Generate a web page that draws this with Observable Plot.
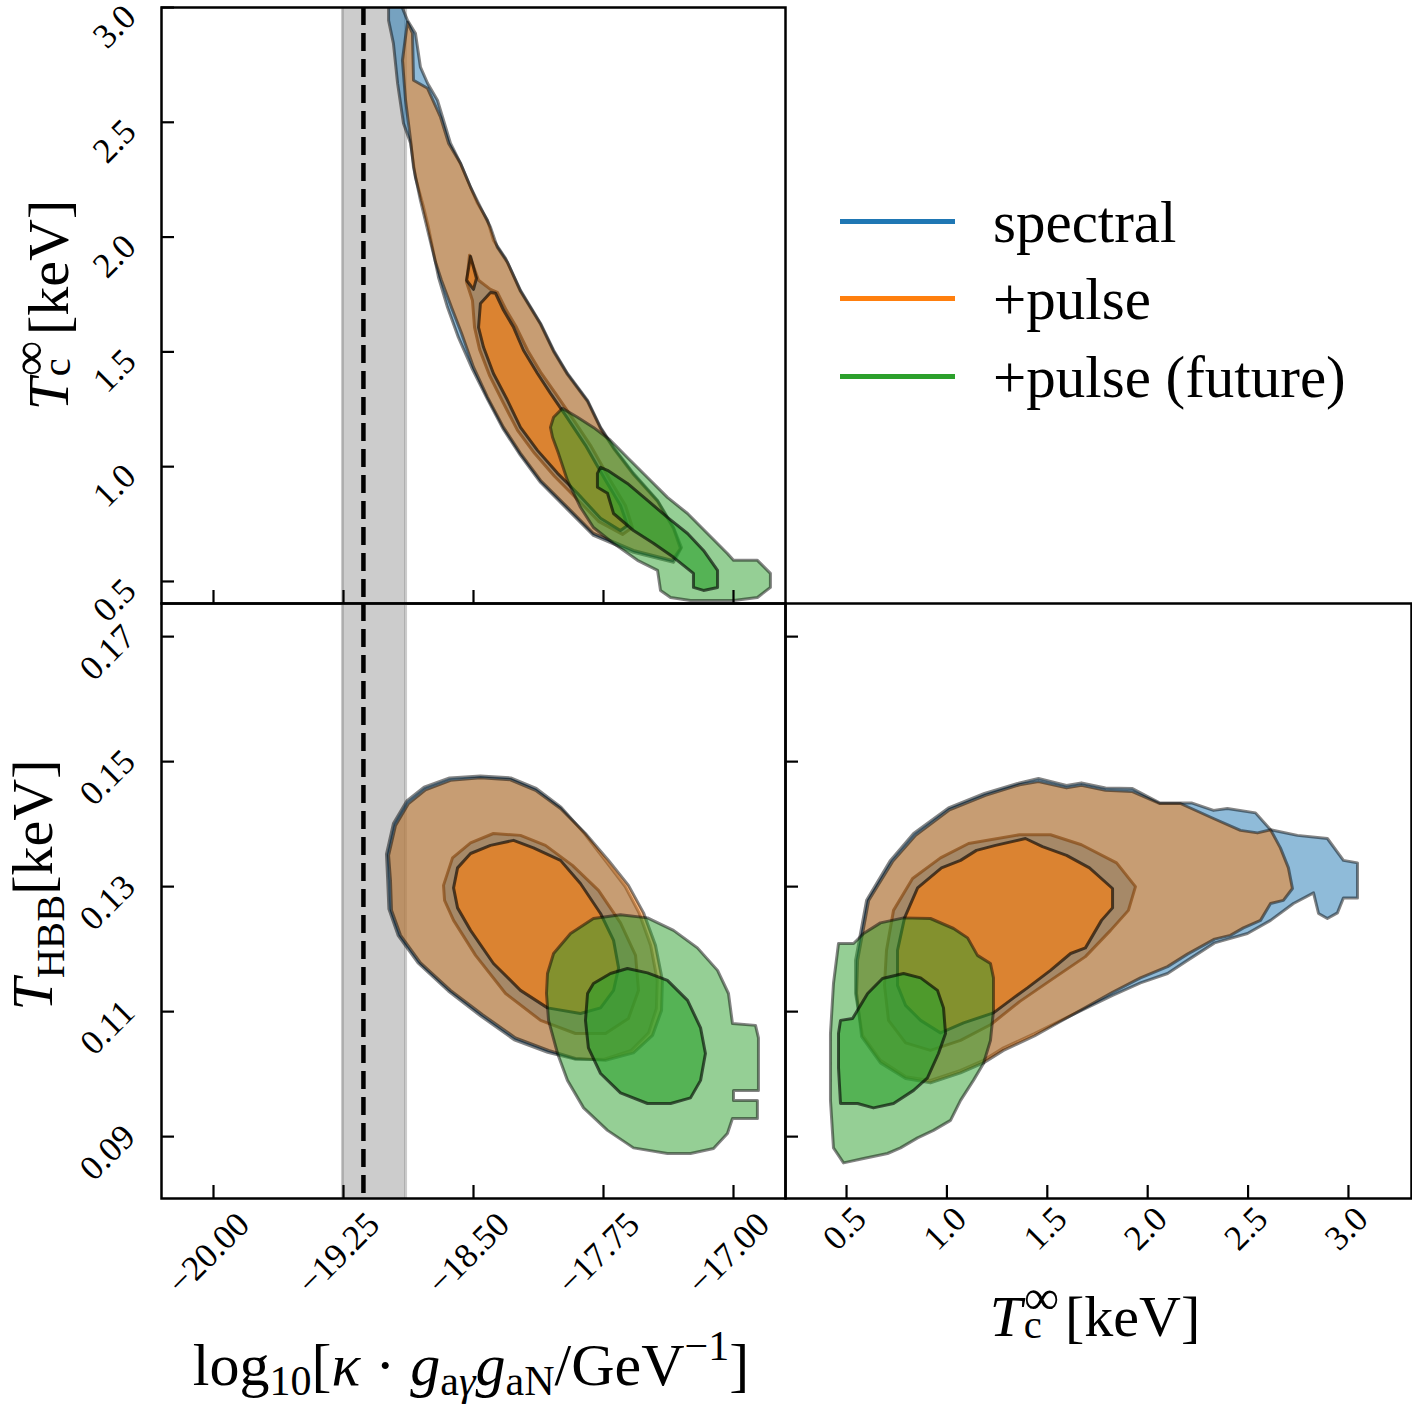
<!DOCTYPE html>
<html>
<head>
<meta charset="utf-8">
<script src="https://cdn.jsdelivr.net/npm/d3@7"></script>
<script src="https://cdn.jsdelivr.net/npm/@observablehq/plot@0.6"></script>
<style>
  html, body { margin: 0; padding: 0; background: #fff; }
  #fig { position: relative; width: 1412px; height: 1406px; overflow: hidden;
         font-family: "Liberation Serif", "Times New Roman", serif; color: #000; }
  .lab { position: absolute; font-size: 58px; line-height: 1; white-space: nowrap;
         transform: translate(-50%, -50%); }
  .lab.rot { transform: translate(-50%, -50%) rotate(-90deg); }
  .lab.wide { font-size: 60px; }
  .lab i { font-style: italic; }
  .lab sub { font-size: 0.7em; vertical-align: -0.3em; line-height: 0; }
  .lab.wide sub { vertical-align: -0.24em; }
  .lab sup { font-size: 0.7em; vertical-align: 0.6em; line-height: 0; }
  .ss { display: inline-block; position: relative; width: 0.74em; height: 1em; }
  .ss > span { position: absolute; left: 0.04em; line-height: 0.5; }
  .ss .up { font-size: 0.85em; top: 0.16em; }
  .ss .dn { font-size: 0.7em; top: 0.9em; }
  .leg { position: absolute; left: 993px; font-size: 59px; line-height: 1; white-space: nowrap; }
  .legline { position: absolute; left: 840px; width: 115px; height: 5px; }
</style>
</head>
<body>
<div id="fig">
  <div class="lab rot" style="left:44px; top:305px;"><i>T</i><span class="ss"><span class="up">∞</span><span class="dn">c</span></span>[keV]</div>
  <div class="lab rot" style="left:33px; top:885px;"><i>T</i><sub>HBB</sub>[keV]</div>
  <div class="lab wide" style="left:471px; top:1365px;">log<sub>10</sub>[<i>κ</i> · <i>g</i><sub>a<i>γ</i></sub><i>g</i><sub>aN</sub>/GeV<sup>−1</sup>]</div>
  <div class="lab" style="left:1095px; top:1312px;"><i>T</i><span class="ss"><span class="up">∞</span><span class="dn">c</span></span>[keV]</div>
</div>
<script>
// ---------------------------------------------------------------------------
// Axis ticks
const couplingTicks = [-20.0, -19.25, -18.5, -17.75, -17.0];
const tcTicks = [0.5, 1.0, 1.5, 2.0, 2.5, 3.0];
const hbbTicks = [0.09, 0.11, 0.13, 0.15, 0.17];

// Shaded coupling interval and its reference value (dashed line)
const couplingBand = [-19.256, -18.892];
const couplingRef = -19.135;

// Legend entries
const seriesNames = ["spectral", "+pulse", "+pulse (future)"];
const seriesColors = ["#1f77b4", "#ff7f0e", "#2ca02c"];

// ---------------------------------------------------------------------------
// Credible regions: log10 coupling vs T_c (outer = 2 sigma, inner = 1 sigma)
const cTcSpectralOuter = [
  [-18.990,3.018],[-18.921,3.018],[-18.881,2.944],[-18.835,2.888],[-18.806,2.740],[-18.765,2.670],
  [-18.708,2.596],[-18.673,2.509],[-18.633,2.409],[-18.575,2.321],[-18.517,2.217],[-18.477,2.147],
  [-18.419,2.073],[-18.385,1.986],[-18.315,1.907],[-18.229,1.768],[-18.113,1.624],[-18.038,1.507],
  [-17.958,1.406],[-17.842,1.289],[-17.767,1.171],[-17.692,1.084],[-17.577,0.971],[-17.438,0.853],
  [-17.346,0.735],[-17.300,0.648],[-17.346,0.583],[-17.577,0.627],[-17.808,0.701],[-17.958,0.814],
  [-18.113,0.931],[-18.229,1.049],[-18.327,1.162],[-18.419,1.293],[-18.506,1.424],[-18.587,1.563],
  [-18.650,1.694],[-18.702,1.825],[-18.760,2.043],[-18.788,2.130],[-18.835,2.260],[-18.863,2.409],
  [-18.904,2.496],[-18.938,2.670],[-18.962,2.844],[-18.990,2.944]
];
const cTcSpectralInner = [
  [-18.523,1.921],[-18.471,1.812],[-18.402,1.772],[-18.362,1.759],[-18.310,1.681],[-18.252,1.607],
  [-18.188,1.507],[-18.108,1.406],[-18.027,1.319],[-17.940,1.223],[-17.825,1.093],[-17.710,0.940],
  [-17.623,0.831],[-17.583,0.735],[-17.640,0.705],[-17.779,0.762],[-17.917,0.870],[-18.033,0.958],
  [-18.148,1.058],[-18.246,1.158],[-18.327,1.276],[-18.408,1.398],[-18.465,1.511],[-18.494,1.607],
  [-18.506,1.724],[-18.540,1.803]
];
const cTcPulseOuter = [
  [-18.881,2.936],[-18.852,2.888],[-18.846,2.683],[-18.765,2.648],[-18.690,2.522],[-18.644,2.409],
  [-18.575,2.321],[-18.517,2.217],[-18.460,2.130],[-18.402,2.043],[-18.362,1.955],[-18.304,1.890],
  [-18.229,1.764],[-18.113,1.620],[-18.038,1.502],[-17.958,1.402],[-17.842,1.284],[-17.767,1.167],
  [-17.692,1.080],[-17.577,0.966],[-17.438,0.849],[-17.346,0.731],[-17.306,0.644],[-17.352,0.592],
  [-17.577,0.635],[-17.808,0.709],[-17.958,0.823],[-18.113,0.940],[-18.229,1.058],[-18.327,1.171],
  [-18.419,1.302],[-18.500,1.433],[-18.569,1.581],[-18.627,1.694],[-18.685,1.812],[-18.719,1.890],
  [-18.760,2.016],[-18.806,2.160],[-18.846,2.304],[-18.863,2.422],[-18.892,2.596],[-18.910,2.770]
];
const cTcPulseInner = [
  [-18.402,1.759],[-18.373,1.755],[-18.327,1.681],[-18.269,1.607],[-18.212,1.507],[-18.131,1.406],
  [-18.056,1.319],[-17.969,1.223],[-17.854,1.093],[-17.738,0.940],[-17.652,0.831],[-17.612,0.744],
  [-17.652,0.722],[-17.767,0.775],[-17.900,0.884],[-18.015,0.971],[-18.131,1.071],[-18.229,1.171],
  [-18.304,1.289],[-18.385,1.406],[-18.442,1.520],[-18.471,1.607],[-18.460,1.711]
];
const cTcPulseIsland = [[-18.517,1.916],[-18.483,1.820],[-18.500,1.772],[-18.540,1.812]];
const cTcFutureOuter = [
  [-18.056,1.171],[-18.038,1.215],[-17.987,1.254],[-17.900,1.215],[-17.808,1.171],[-17.710,1.115],
  [-17.612,1.040],[-17.496,0.953],[-17.381,0.866],[-17.265,0.796],[-17.150,0.709],[-17.035,0.622],
  [-17.000,0.592],[-16.862,0.592],[-16.787,0.535],[-16.787,0.474],[-16.862,0.430],[-17.000,0.417],
  [-17.248,0.417],[-17.363,0.430],[-17.421,0.461],[-17.438,0.548],[-17.554,0.592],[-17.692,0.666],
  [-17.808,0.735],[-17.883,0.823],[-17.958,0.940],[-18.010,1.058],[-18.044,1.128]
];
const cTcFutureInner = [
  [-17.785,0.971],[-17.767,0.997],[-17.727,0.984],[-17.612,0.927],[-17.496,0.853],[-17.381,0.779],
  [-17.265,0.709],[-17.173,0.635],[-17.092,0.548],[-17.092,0.474],[-17.173,0.461],[-17.231,0.474],
  [-17.231,0.535],[-17.346,0.605],[-17.462,0.666],[-17.577,0.722],[-17.692,0.796],[-17.727,0.884],
  [-17.785,0.910]
];

// Credible regions: log10 coupling vs T_HBB
const cHbbSpectralOuter = [
  [-18.995,0.1310],[-19.002,0.1352],[-18.962,0.1401],[-18.885,0.1437],[-18.785,0.1459],[-18.638,0.1474],
  [-18.460,0.1477],[-18.285,0.1474],[-18.138,0.1457],[-17.995,0.1427],[-17.860,0.1385],[-17.735,0.1340],
  [-17.625,0.1300],[-17.545,0.1258],[-17.478,0.1206],[-17.440,0.1150],[-17.445,0.1105],[-17.490,0.1066],
  [-17.590,0.1038],[-17.745,0.1024],[-17.915,0.1024],[-18.072,0.1035],[-18.265,0.1055],[-18.458,0.1093],
  [-18.645,0.1133],[-18.820,0.1178],[-18.935,0.1222],[-18.988,0.1264]
];
const cHbbSpectralInner = [
  [-18.673,0.1302],[-18.621,0.1346],[-18.517,0.1370],[-18.385,0.1385],[-18.229,0.1382],[-18.085,0.1366],
  [-17.929,0.1334],[-17.779,0.1294],[-17.652,0.1242],[-17.565,0.1190],[-17.548,0.1134],[-17.606,0.1089],
  [-17.738,0.1065],[-17.912,0.1065],[-18.113,0.1086],[-18.315,0.1129],[-18.488,0.1190],[-18.615,0.1246],
  [-18.667,0.1278]
];
const cHbbPulseOuter = [
  [-18.979,0.1310],[-18.990,0.1350],[-18.950,0.1398],[-18.875,0.1433],[-18.777,0.1455],[-18.633,0.1470],
  [-18.460,0.1474],[-18.287,0.1471],[-18.142,0.1454],[-17.998,0.1425],[-17.854,0.1385],[-17.721,0.1342],
  [-17.606,0.1302],[-17.519,0.1258],[-17.450,0.1206],[-17.410,0.1150],[-17.415,0.1102],[-17.467,0.1062],
  [-17.577,0.1034],[-17.738,0.1022],[-17.912,0.1025],[-18.067,0.1038],[-18.258,0.1058],[-18.448,0.1095],
  [-18.633,0.1134],[-18.806,0.1178],[-18.921,0.1222],[-18.973,0.1262]
];
const cHbbPulseInner = [
  [-18.615,0.1298],[-18.592,0.1330],[-18.517,0.1353],[-18.402,0.1366],[-18.269,0.1374],[-18.154,0.1362],
  [-17.998,0.1342],[-17.883,0.1305],[-17.767,0.1257],[-17.692,0.1214],[-17.663,0.1170],[-17.692,0.1134],
  [-17.767,0.1106],[-17.883,0.1097],[-18.073,0.1106],[-18.229,0.1134],[-18.385,0.1177],[-18.517,0.1230],
  [-18.592,0.1266]
];
const cHbbFutureOuter = [
  [-18.079,0.1129],[-18.073,0.1161],[-18.038,0.1193],[-17.940,0.1225],[-17.808,0.1249],[-17.652,0.1255],
  [-17.496,0.1250],[-17.346,0.1230],[-17.208,0.1202],[-17.092,0.1166],[-17.029,0.1129],[-17.006,0.1081],
  [-16.873,0.1078],[-16.856,0.1058],[-16.856,0.0974],[-17.000,0.0974],[-17.000,0.0958],[-16.862,0.0958],
  [-16.862,0.0929],[-17.006,0.0929],[-17.035,0.0905],[-17.115,0.0881],[-17.248,0.0873],[-17.381,0.0873],
  [-17.577,0.0882],[-17.727,0.0910],[-17.865,0.0946],[-17.958,0.0990],[-18.015,0.1033],[-18.067,0.1086]
];
const cHbbFutureInner = [
  [-17.854,0.1086],[-17.842,0.1129],[-17.808,0.1145],[-17.710,0.1161],[-17.612,0.1169],[-17.496,0.1162],
  [-17.381,0.1150],[-17.265,0.1118],[-17.190,0.1074],[-17.162,0.1033],[-17.190,0.0990],[-17.248,0.0962],
  [-17.363,0.0953],[-17.496,0.0953],[-17.652,0.0970],[-17.767,0.1001],[-17.837,0.1042]
];

// Credible regions: T_c vs T_HBB
const tcHbbSpectralOuter = [
  [0.545,0.1129],[0.545,0.1182],[0.600,0.1278],[0.719,0.1342],[0.834,0.1385],[1.008,0.1426],
  [1.187,0.1449],[1.362,0.1466],[1.456,0.1473],[1.596,0.1462],[1.670,0.1466],[1.790,0.1458],
  [1.924,0.1457],[2.059,0.1434],[2.218,0.1434],[2.328,0.1422],[2.397,0.1425],[2.537,0.1418],
  [2.612,0.1391],[2.746,0.1382],[2.895,0.1377],[2.975,0.1342],[3.045,0.1338],[3.045,0.1282],
  [2.975,0.1282],[2.945,0.1258],[2.895,0.1249],[2.851,0.1257],[2.826,0.1290],[2.726,0.1273],
  [2.612,0.1246],[2.497,0.1225],[2.333,0.1210],[2.198,0.1182],[2.099,0.1161],[1.964,0.1146],
  [1.825,0.1126],[1.670,0.1102],[1.536,0.1081],[1.436,0.1065],[1.282,0.1042],[1.182,0.1022],
  [1.068,0.1006],[0.918,0.0990],[0.794,0.0996],[0.669,0.1022],[0.580,0.1062]
];
const tcHbbSpectralInner = [
  [0.699,0.1198],[0.734,0.1262],[0.829,0.1313],[0.968,0.1346],[1.108,0.1369],[1.362,0.1383],
  [1.516,0.1383],[1.670,0.1367],[1.845,0.1338],[1.939,0.1300],[1.904,0.1262],[1.815,0.1230],
  [1.690,0.1188],[1.516,0.1150],[1.362,0.1116],[1.217,0.1079],[1.068,0.1054],[0.918,0.1038],
  [0.794,0.1050],[0.709,0.1086],[0.689,0.1142]
];
const tcHbbPulseOuter = [
  [0.550,0.1129],[0.555,0.1182],[0.610,0.1278],[0.729,0.1340],[0.844,0.1382],[1.013,0.1423],
  [1.192,0.1446],[1.362,0.1463],[1.456,0.1468],[1.596,0.1458],[1.670,0.1462],[1.790,0.1454],
  [1.924,0.1452],[2.059,0.1433],[2.163,0.1433],[2.328,0.1409],[2.462,0.1390],[2.547,0.1386],
  [2.612,0.1391],[2.661,0.1362],[2.701,0.1330],[2.721,0.1297],[2.676,0.1278],[2.612,0.1273],
  [2.562,0.1246],[2.477,0.1234],[2.412,0.1222],[2.333,0.1216],[2.198,0.1192],[2.099,0.1172],
  [1.964,0.1154],[1.825,0.1131],[1.670,0.1103],[1.536,0.1079],[1.436,0.1061],[1.282,0.1038],
  [1.182,0.1018],[1.068,0.1002],[0.918,0.0986],[0.794,0.0993],[0.669,0.1018],[0.575,0.1060]
];
const tcHbbPulseInner = [
  [0.754,0.1198],[0.789,0.1250],[0.854,0.1298],[0.973,0.1330],[1.068,0.1342],[1.147,0.1358],
  [1.242,0.1366],[1.391,0.1377],[1.476,0.1364],[1.596,0.1350],[1.710,0.1330],[1.825,0.1297],
  [1.825,0.1266],[1.770,0.1246],[1.690,0.1202],[1.616,0.1193],[1.516,0.1166],[1.401,0.1138],
  [1.332,0.1122],[1.232,0.1098],[1.083,0.1082],[0.968,0.1066],[0.869,0.1086],[0.794,0.1110],
  [0.754,0.1142]
];
const tcHbbFutureOuter = [
  [0.460,0.1209],[0.535,0.1209],[0.585,0.1225],[0.669,0.1242],[0.784,0.1250],[0.918,0.1249],
  [1.033,0.1233],[1.103,0.1218],[1.152,0.1190],[1.217,0.1177],[1.232,0.1154],[1.232,0.1102],
  [1.217,0.1054],[1.182,0.1017],[1.132,0.0990],[1.068,0.0958],[1.018,0.0926],[0.933,0.0910],
  [0.854,0.0898],[0.769,0.0882],[0.704,0.0873],[0.585,0.0865],[0.485,0.0858],[0.435,0.0882],
  [0.420,0.0958],[0.420,0.1065],[0.435,0.1145]
];
const tcHbbFutureInner = [
  [0.470,0.1086],[0.530,0.1089],[0.605,0.1129],[0.679,0.1153],[0.784,0.1161],[0.869,0.1154],
  [0.953,0.1134],[0.983,0.1106],[0.993,0.1065],[0.958,0.1033],[0.903,0.0994],[0.834,0.0974],
  [0.734,0.0953],[0.634,0.0946],[0.555,0.0953],[0.470,0.0953],[0.460,0.1010],[0.460,0.1065]
];

// ---------------------------------------------------------------------------
// Layout of the corner grid (pixel frame of each panel on a shared canvas)
const W = 1412, H = 1406;
const leftCol = [161, 785], rightCol = [785, 1411];
const topRow = [7, 603], bottomRow = [603, 1198];
const couplingDomain = [-20.3, -16.7];
const tcDomainY = [0.404, 3.0];
const tcDomainX = [0.196, 3.314];
const hbbDomain = [0.0801, 0.1753];

const FONT = "Liberation Serif";
const TICK_FONT = 35;
const TICK = 13;
const fig = document.getElementById("fig");

// One filled, outlined credible region
function region(points, color, inner) {
  return Plot.line(points, {
    x: d => d[0], y: d => d[1], curve: "linear-closed",
    fill: color, fillOpacity: inner ? 0.6 : 0.5,
    stroke: "#000", strokeOpacity: inner ? 0.62 : 0.48, strokeWidth: 3,
    strokeLinejoin: "round", clip: true
  });
}

const [cBlue, cOrange, cGreen] = seriesColors;

// inward ticks
const ticksY = (values, fx) => Plot.tickY(values, {y: d => d, insetRight: (fx[1] - fx[0]) - TICK, stroke: "#000", strokeWidth: 2.2});
const ticksX = (values, fy) => Plot.tickX(values, {x: d => d, insetTop: (fy[1] - fy[0]) - TICK, stroke: "#000", strokeWidth: 2.2});

// rotated tick labels
const minus = s => s.replace("-", "\u2212");
const labelsY = (values, digits, dx, dy) => Plot.text(values, {
  y: d => d, frameAnchor: "left", text: d => d.toFixed(digits), rotate: -45, textAnchor: "middle",
  dx, dy, fontSize: TICK_FONT, fontFamily: FONT, fill: "#000"
});
const labelsX = (values, digits, dx, dy) => Plot.text(values, {
  x: d => d, frameAnchor: "bottom", text: d => minus(d.toFixed(digits)), rotate: -45, textAnchor: "middle",
  dx, dy, fontSize: TICK_FONT, fontFamily: FONT, fill: "#000"
});

// shaded interval and dashed reference line in the coupling column
const bandMarks = () => [
  Plot.rect([couplingBand], {x1: d => d[0], x2: d => d[1], fill: "#808080", fillOpacity: 0.4}),
  Plot.ruleX(couplingBand, {x: d => d, stroke: "#808080", strokeOpacity: 0.4, strokeWidth: 3}),
  Plot.ruleX([couplingRef], {x: d => d, stroke: "#000", strokeWidth: 4.5, strokeDasharray: "18,8"})
];

function panel(fx, fy, xDomain, yDomain, marks) {
  const svg = Plot.plot({
    width: W, height: H,
    marginLeft: fx[0], marginRight: W - fx[1],
    marginTop: fy[0], marginBottom: H - fy[1],
    x: {domain: xDomain, axis: null},
    y: {domain: yDomain, axis: null},
    style: "position:absolute;left:0;top:0;background:transparent;overflow:visible;max-width:none;",
    marks
  });
  fig.appendChild(svg);
}

// coupling vs T_c (top left)
panel(leftCol, topRow, couplingDomain, tcDomainY, [
  ...bandMarks(),
  region(cTcSpectralOuter, cBlue, false),
  region(cTcSpectralInner, cBlue, true),
  region(cTcPulseOuter, cOrange, false),
  region(cTcPulseInner, cOrange, true),
  region(cTcPulseIsland, cOrange, true),
  region(cTcFutureOuter, cGreen, false),
  region(cTcFutureInner, cGreen, true),
  Plot.frame({stroke: "#000", strokeWidth: 2.5}),
  ticksY(tcTicks, leftCol),
  ticksX(couplingTicks, topRow),
  labelsY(tcTicks, 1, -47, 19)
]);

// coupling vs T_HBB (bottom left)
panel(leftCol, bottomRow, couplingDomain, hbbDomain, [
  ...bandMarks(),
  region(cHbbSpectralOuter, cBlue, false),
  region(cHbbSpectralInner, cBlue, true),
  region(cHbbPulseOuter, cOrange, false),
  region(cHbbPulseInner, cOrange, true),
  region(cHbbFutureOuter, cGreen, false),
  region(cHbbFutureInner, cGreen, true),
  Plot.frame({stroke: "#000", strokeWidth: 2.5}),
  ticksY(hbbTicks, leftCol),
  ticksX(couplingTicks, bottomRow),
  labelsY(hbbTicks, 2, -54, 16),
  labelsX(couplingTicks, 2, 3, 63)
]);

// T_c vs T_HBB (bottom right)
panel(rightCol, bottomRow, tcDomainX, hbbDomain, [
  region(tcHbbSpectralOuter, cBlue, false),
  region(tcHbbSpectralInner, cBlue, true),
  region(tcHbbPulseOuter, cOrange, false),
  region(tcHbbPulseInner, cOrange, true),
  region(tcHbbFutureOuter, cGreen, false),
  region(tcHbbFutureInner, cGreen, true),
  Plot.frame({stroke: "#000", strokeWidth: 2.5}),
  ticksY(hbbTicks, rightCol),
  ticksX(tcTicks, bottomRow),
  labelsX(tcTicks, 1, 6, 38)
]);

// legend in the empty top-right cell
const legendRows = [221, 298, 376];
seriesNames.forEach((name, i) => {
  const line = document.createElement("div");
  line.className = "legline";
  line.style.top = (legendRows[i] - 2.5) + "px";
  line.style.background = seriesColors[i];
  fig.appendChild(line);
  const label = document.createElement("div");
  label.className = "leg";
  label.style.top = (legendRows[i] + 21 - 49) + "px";
  label.textContent = name;
  fig.appendChild(label);
});
</script>
</body>
</html>
